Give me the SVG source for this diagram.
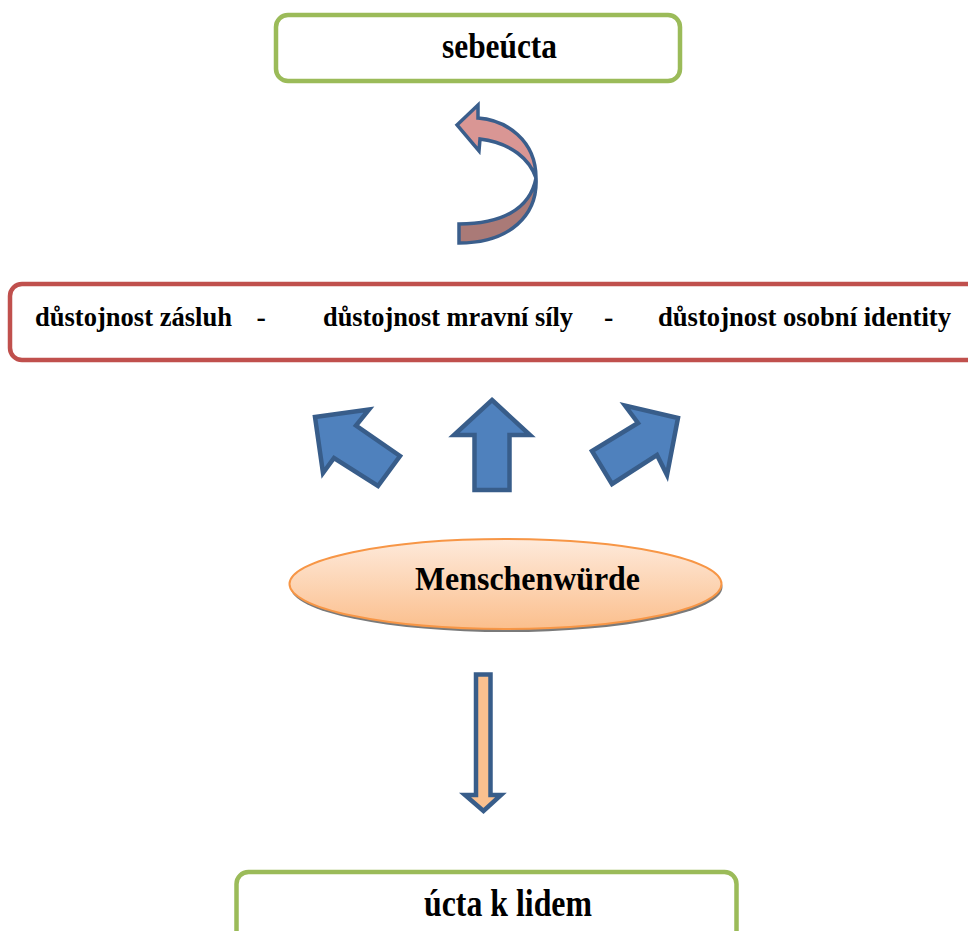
<svg xmlns="http://www.w3.org/2000/svg" width="968" height="931" viewBox="0 0 968 931">
<defs>
<style>
.t{font-family:"Liberation Serif","Times New Roman",serif;font-weight:bold;fill:#000;}
.green{fill:#fff;stroke:#9BBB59;stroke-width:4.5;}
.blue{fill:#4F81BD;stroke:#385D8A;stroke-width:4.5;stroke-linejoin:miter;}
</style>
<linearGradient id="peach" x1="0" y1="0" x2="0" y2="1">
<stop offset="0" stop-color="#FEEADB"/>
<stop offset="1" stop-color="#FBBF8D"/>
</linearGradient>
</defs>
<rect width="968" height="931" fill="#fff"/>

<g id="sebeucta">
<rect class="green" x="276" y="15" width="404" height="66" rx="12"/>
<text class="t" x="442" y="58" font-size="35" textLength="115" lengthAdjust="spacingAndGlyphs">sebeúcta</text>
</g>

<g id="dustojnost">
<rect x="10" y="284" width="990" height="76" rx="12" fill="#fff" stroke="#C0504D" stroke-width="4.5"/>
<text class="t" x="35" y="326" font-size="28" textLength="197" lengthAdjust="spacingAndGlyphs">důstojnost zásluh</text>
<text class="t" x="256.5" y="326" font-size="28">-</text>
<text class="t" x="323" y="326" font-size="28" textLength="250" lengthAdjust="spacingAndGlyphs">důstojnost mravní síly</text>
<text class="t" x="604" y="326" font-size="28">-</text>
<text class="t" x="658" y="326" font-size="28" textLength="293" lengthAdjust="spacingAndGlyphs">důstojnost osobní identity</text>
</g>

<g id="menschenwurde">
<ellipse cx="506.5" cy="587" rx="216" ry="45" fill="#7a7a7a"/>
<ellipse cx="505.5" cy="584" rx="216" ry="45" fill="url(#peach)" stroke="#F79646" stroke-width="2"/>
<text class="t" x="415" y="590" font-size="33" textLength="225" lengthAdjust="spacingAndGlyphs">Menschenwürde</text>
</g>

<g id="ucta-k-lidem">
<rect class="green" x="236.5" y="872" width="500" height="80" rx="12"/>
<text class="t" x="424" y="916" font-size="37" textLength="168" lengthAdjust="spacingAndGlyphs">úcta k lidem</text>
</g>

<g id="connectors">
<g id="curved-arrow" stroke="#3A5E8C" stroke-width="3.5" stroke-linejoin="miter">
<path d="M536,178 C538,215 510,243 459,243 L459,224 C500,224 530,210 536,178 Z" fill="#AA7A77"/>
<path d="M457,125 L478,105 L478,118 C506,120 536,140 536,178 C530,160 512,143 480,139 L479,151 Z" fill="#D99694"/>
</g>
<polygon class="blue" points="315,417 369,409.5 356,425.5 400,456 378,486 334,458 323,473"/>
<polygon class="blue" points="492,400 530,435 509.5,435 509.5,490 474.5,490 474.5,435 454,435"/>
<polygon class="blue" points="678,418 625,405.5 638,423 592,451 612,484 657,455 667,475"/>
<path d="M476,674.5 H490.5 V795 H501 L483.5,811 L465,795 H476 Z" fill="#FAC08F" stroke="#385D8A" stroke-width="4.5"/>
</g>
</svg>
